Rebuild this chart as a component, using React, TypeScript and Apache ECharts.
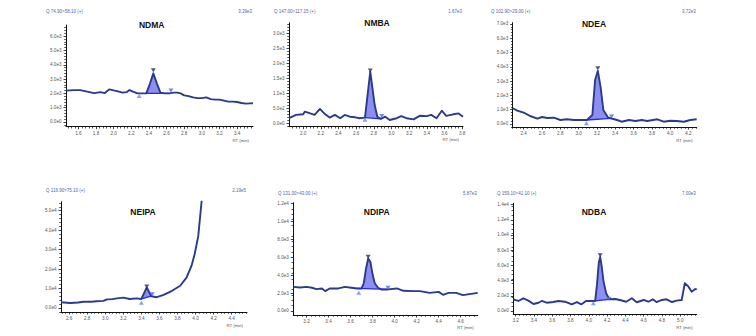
import React, { useEffect, useRef } from "react";
import * as echarts from "echarts";

// ---------- DATA ----------
const names = ["NDMA", "NMBA", "NDEA", "NEIPA", "NDIPA", "NDBA"];
const channels = ["Q 74.90>58.10 (+)", "Q 147.00>117.15 (+)", "Q 102.90>29.00 (+)", "Q 116.90>75.10 (+)", "Q 131.00>43.00 (+)", "Q 159.10>41.10 (+)"];
const heights = ["3.39e3", "1.67e3", "3.72e3", "2.19e5", "5.87e3", "7.00e3"];

const ndmaRt = [1.46,1.55,1.62,1.7,1.78,1.85,1.9,1.95,2.0,2.05,2.1,2.15,2.18,2.22,2.27,2.32,2.37,2.41,2.45,2.49,2.53,2.58,2.63,2.68,2.72,2.76,2.8,2.85,2.9,2.95,3.0,3.05,3.1,3.15,3.2,3.25,3.3,3.35,3.4,3.45,3.5,3.55,3.58];
const ndmaInt = [2190,2230,2230,2120,2020,2090,2020,2280,2210,2140,2050,2090,2230,2120,2000,2000,2000,2650,3400,2700,2050,2000,2000,2050,2050,2000,1860,1810,1720,1670,1670,1720,1600,1560,1560,1490,1420,1420,1400,1330,1280,1300,1310];
const ndmaBase = [[2.37, 2000], [2.63, 2000]];
const ndmaMarks = [[2.29, 1820], [2.45, 3620], [2.65, 2200]];

const nmbaRt = [1.84,1.92,2.0,2.02,2.08,2.13,2.19,2.25,2.3,2.36,2.42,2.47,2.53,2.59,2.64,2.7,2.76,2.81,2.84,2.88,2.93,2.98,3.06,3.11,3.17,3.25,3.32,3.4,3.45,3.51,3.57,3.62,3.7,3.76,3.81];
const nmbaInt = [170,280,300,390,330,280,480,300,190,280,170,280,220,200,170,190,1720,610,220,150,220,110,170,240,170,130,250,240,280,170,420,250,300,330,220];
const nmbaBase = [[2.7, 190], [2.88, 150]];
const nmbaMarks = [[2.7, 120], [2.76, 1760], [2.89, 240]];

const ndeaRt = [2.28,2.33,2.4,2.47,2.55,2.6,2.66,2.73,2.8,2.87,2.95,3.02,3.09,3.15,3.18,3.21,3.24,3.27,3.32,3.35,3.42,3.47,3.55,3.62,3.69,3.75,3.86,3.93,4.0,4.07,4.15,4.22,4.29];
const ndeaInt = [1100,930,790,560,370,490,420,440,280,330,280,280,280,630,3080,3720,2600,980,470,400,280,160,280,210,280,210,330,160,230,210,160,280,330];
const ndeaBase = [[3.09, 280], [3.35, 400]];
const ndeaMarks = [[3.085, 60], [3.21, 3900], [3.36, 520]];

const neipaRt = [2.51,2.61,2.7,2.76,2.85,2.9,2.98,3.02,3.08,3.13,3.2,3.27,3.35,3.4,3.46,3.51,3.57,3.64,3.74,3.83,3.9,3.955,3.99,4.03,4.067,4.09];
const neipaInt = [2900,2550,2800,3200,3200,3400,3600,4400,4500,4900,5300,4600,4900,4600,10500,6000,5500,6600,8800,11400,15600,21600,27600,36900,54700,62000];
const neipaBase = [[3.4, 4600], [3.51, 6000]];
const neipaMarks = [[3.4, 2600], [3.46, 11000], [3.52, 7000]];

const ndipaRt = [3.08,3.14,3.2,3.25,3.29,3.34,3.37,3.41,3.49,3.55,3.59,3.66,3.7,3.72,3.74,3.76,3.78,3.8,3.82,3.85,3.88,3.94,4.02,4.08,4.17,4.23,4.32,4.4,4.44,4.49,4.56,4.62,4.68,4.755];
const ndipaInt = [2700,2630,2700,2600,2440,2520,2220,2520,2520,2700,2630,2520,2520,3100,4700,5870,5500,4100,3100,2600,2410,2410,2520,2260,2220,2220,2030,2140,1810,2030,2030,1780,1890,2030];
const ndipaBase = [[3.66, 2520], [3.94, 2410]];
const ndipaMarks = [[3.675, 2030], [3.76, 6050], [3.94, 2600]];

const ndbaRt = [3.176,3.23,3.285,3.34,3.395,3.45,3.486,3.54,3.613,3.668,3.74,3.814,3.87,3.92,3.97,4.03,4.07,4.09,4.11,4.125,4.14,4.16,4.19,4.225,4.29,4.34,4.41,4.47,4.525,4.6,4.65,4.7,4.74,4.8,4.85,4.91,4.96,5.016,5.05,5.09,5.125,5.16,5.18];
const ndbaInt = [1540,1320,1670,1360,920,1090,1320,1090,1180,1320,1220,880,1180,880,1320,1320,1320,3500,6400,7100,6000,4000,2330,1540,1580,1450,1220,1670,1150,1450,1220,1540,1180,1450,1540,1180,1360,1450,3650,3200,2540,2860,2900];
const ndbaBase = [[4.07, 1320], [4.225, 1540]];
const ndbaMarks = [[4.05, 1010], [4.125, 7350], [4.22, 1600]];

// tick labels
const ndmaXTicks = [1.6,1.8,2.0,2.2,2.4,2.6,2.8,3.0,3.2,3.4];
const ndmaYTicks = [0,1000,2000,3000,4000,5000,6000];
const nmbaXTicks = [2.0,2.2,2.4,2.6,2.8,3.0,3.2,3.4,3.6,3.8];
const nmbaYTicks = [0,500,1000,1500,2000,2500,3000];
const ndeaXTicks = [2.4,2.6,2.8,3.0,3.2,3.4,3.6,3.8,4.0,4.2];
const ndeaYTicks = [0,1000,2000,3000,4000,5000,6000,7000];
const neipaXTicks = [2.6,2.8,3.0,3.2,3.4,3.6,3.8,4.0,4.2,4.4];
const neipaYTicks = [0,10000,20000,30000,40000,50000];
const ndipaXTicks = [3.2,3.4,3.6,3.8,4.0,4.2,4.4,4.6];
const ndipaYTicks = [0,2000,4000,6000,8000,10000,12000];
const ndbaXTicks = [3.2,3.4,3.6,3.8,4.0,4.2,4.4,4.6,4.8,5.0];
const ndbaYTicks = [0,2000,4000,6000,8000,10000,12000,14000];

// axis ranges
const xRanges = [[1.46, 3.58], [1.84, 3.81], [2.28, 4.29], [2.51, 4.57], [3.08, 4.755], [3.175, 5.18]];
const yRanges = [[-330, 6780], [-113, 3353], [-210, 7084], [-2100, 54600], [-447, 12100], [-395, 14171]];

// ---------- LAYOUT ----------
const layouts = [
  { left: 66, top: 25, width: 187, height: 101.7, hx: 46, hy: 11.5, tx: 151.7, ty: 24.5, rty: 140 },
  { left: 289, top: 22.7, width: 174, height: 104, hx: 274, hy: 11, tx: 377, ty: 23, rty: 139.5 },
  { left: 512.7, top: 22.7, width: 184, height: 104.3, hx: 491, hy: 11, tx: 594, ty: 24, rty: 140 },
  { left: 61, top: 201.7, width: 186, height: 110.3, hx: 46, hy: 190.5, tx: 143, ty: 212, rty: 325.5 },
  { left: 293.3, top: 202.7, width: 184.4, height: 112.3, hx: 278, hy: 193, tx: 376.7, ty: 212, rty: 327.8 },
  { left: 513.3, top: 203.3, width: 183.4, height: 110.7, hx: 497, hy: 193, tx: 594, ty: 212, rty: 327 },
];

const FONT = '"Liberation Sans", Arial, Helvetica, sans-serif';
const TRACE = "#2b3a8c";
const FILL = "#8d8ff0";
const BASE = "#1f2ee3";

const panels = [
  { rt: ndmaRt, int: ndmaInt, base: ndmaBase, marks: ndmaMarks, xt: ndmaXTicks, yt: ndmaYTicks },
  { rt: nmbaRt, int: nmbaInt, base: nmbaBase, marks: nmbaMarks, xt: nmbaXTicks, yt: nmbaYTicks },
  { rt: ndeaRt, int: ndeaInt, base: ndeaBase, marks: ndeaMarks, xt: ndeaXTicks, yt: ndeaYTicks },
  { rt: neipaRt, int: neipaInt, base: neipaBase, marks: neipaMarks, xt: neipaXTicks, yt: neipaYTicks },
  { rt: ndipaRt, int: ndipaInt, base: ndipaBase, marks: ndipaMarks, xt: ndipaXTicks, yt: ndipaYTicks },
  { rt: ndbaRt, int: ndbaInt, base: ndbaBase, marks: ndbaMarks, xt: ndbaXTicks, yt: ndbaYTicks },
];

function buildOption() {
  const grid: any[] = [];
  const xAxis: any[] = [];
  const yAxis: any[] = [];
  const series: any[] = [];
  const graphic: any[] = [];

  panels.forEach((p, i) => {
    const L = layouts[i];
    grid.push({ left: L.left, top: L.top, width: L.width, height: L.height, containLabel: false, outerBoundsMode: "none" });
    xAxis.push({
      gridIndex: i, type: "value", min: xRanges[i][0], max: xRanges[i][1], splitNumber: 10,
      axisLine: { show: true, onZero: false, lineStyle: { color: "#111", width: 1 } },
      axisTick: { show: true, length: 2.5, customValues: p.xt, lineStyle: { color: "#111", width: 0.8 } },
      minorTick: { show: true, splitNumber: 5, length: 1.8, lineStyle: { color: "#111", width: 0.7 } },
      splitLine: { show: false },
      axisLabel: { customValues: p.xt, formatter: (v: number) => v.toFixed(1), fontSize: 4.6, color: "#555", margin: 4.2, fontFamily: FONT },
    });
    yAxis.push({
      gridIndex: i, type: "value", min: yRanges[i][0], max: yRanges[i][1], splitNumber: 5,
      axisLine: { show: true, onZero: false, lineStyle: { color: "#111", width: 1 } },
      axisTick: { show: true, length: 2.5, customValues: p.yt, lineStyle: { color: "#111", width: 0.8 } },
      minorTick: { show: true, splitNumber: 5, length: 1.8, lineStyle: { color: "#111", width: 0.7 } },
      splitLine: { show: false },
      axisLabel: { customValues: p.yt, formatter: (v: number) => v.toExponential(1).replace("e+", "e"), fontSize: 4.6, color: "#555", margin: 4.5, fontFamily: FONT },
    });

    const b0 = p.base[0];
    const b1 = p.base[1];
    // peak fill
    series.push({
      type: "custom", xAxisIndex: i, yAxisIndex: i, silent: true, z: 1, clip: true,
      data: [[b0[0], b0[1]]],
      renderItem: (params: any, api: any) => {
        const pts: number[][] = [api.coord(b0)];
        p.rt.forEach((x, j) => {
          if (x > b0[0] && x < b1[0]) pts.push(api.coord([x, p.int[j]]));
        });
        pts.push(api.coord(b1));
        return { type: "polygon", shape: { points: pts }, style: { fill: FILL, stroke: "none" } };
      },
    });
    // trace
    series.push({
      type: "line", xAxisIndex: i, yAxisIndex: i, z: 3, symbol: "none", showSymbol: false, clip: true,
      data: p.rt.map((x, j) => [x, p.int[j]]),
      lineStyle: { color: TRACE, width: 1.9, join: "round" },
    });
    // baseline
    series.push({
      type: "line", xAxisIndex: i, yAxisIndex: i, z: 4, symbol: "none", showSymbol: false,
      data: p.base,
      lineStyle: { color: BASE, width: 1.3 },
    });
    // markers
    series.push({
      type: "scatter", xAxisIndex: i, yAxisIndex: i, z: 5, symbol: "triangle", symbolSize: [5, 4],
      data: [
        { value: p.marks[0], itemStyle: { color: "#6e86ee" } },
        { value: p.marks[1], symbolRotate: 180, itemStyle: { color: "#1d2a6e" } },
        { value: p.marks[2], symbolRotate: 180, itemStyle: { color: "#4c63e6" } },
      ],
    });

    const right = L.left + L.width;
    graphic.push({ type: "text", x: L.hx, y: L.hy, style: { text: channels[i], fill: "#5563a8", fontSize: 4.5, fontFamily: FONT, align: "left", verticalAlign: "middle" } });
    graphic.push({ type: "text", x: right - 1, y: L.hy, style: { text: heights[i], fill: "#5563a8", fontSize: 4.5, fontFamily: FONT, align: "right", verticalAlign: "middle" } });
    graphic.push({ type: "text", x: L.tx, y: L.ty, style: { text: names[i], fill: "#111", fontSize: 8.5, fontWeight: "bold", fontFamily: FONT, align: "center", verticalAlign: "middle" } });
    graphic.push({ type: "text", x: right - 4, y: L.rty, style: { text: "RT (min)", fill: "#555", fontSize: 4.3, fontFamily: FONT, align: "right", verticalAlign: "middle" } });
  });

  return { animation: false, backgroundColor: "#fff", grid, xAxis, yAxis, series, graphic };
}

export default function App() {
  const ref = useRef<HTMLDivElement>(null);
  useEffect(() => {
    const chart = echarts.init(ref.current as HTMLDivElement, null, { renderer: "svg" });
    chart.setOption(buildOption() as any);
    return () => chart.dispose();
  }, []);
  return <div ref={ref} style={{ position: "fixed", left: 0, top: 0, width: 756, height: 336, background: "#fff" }} />;
}
